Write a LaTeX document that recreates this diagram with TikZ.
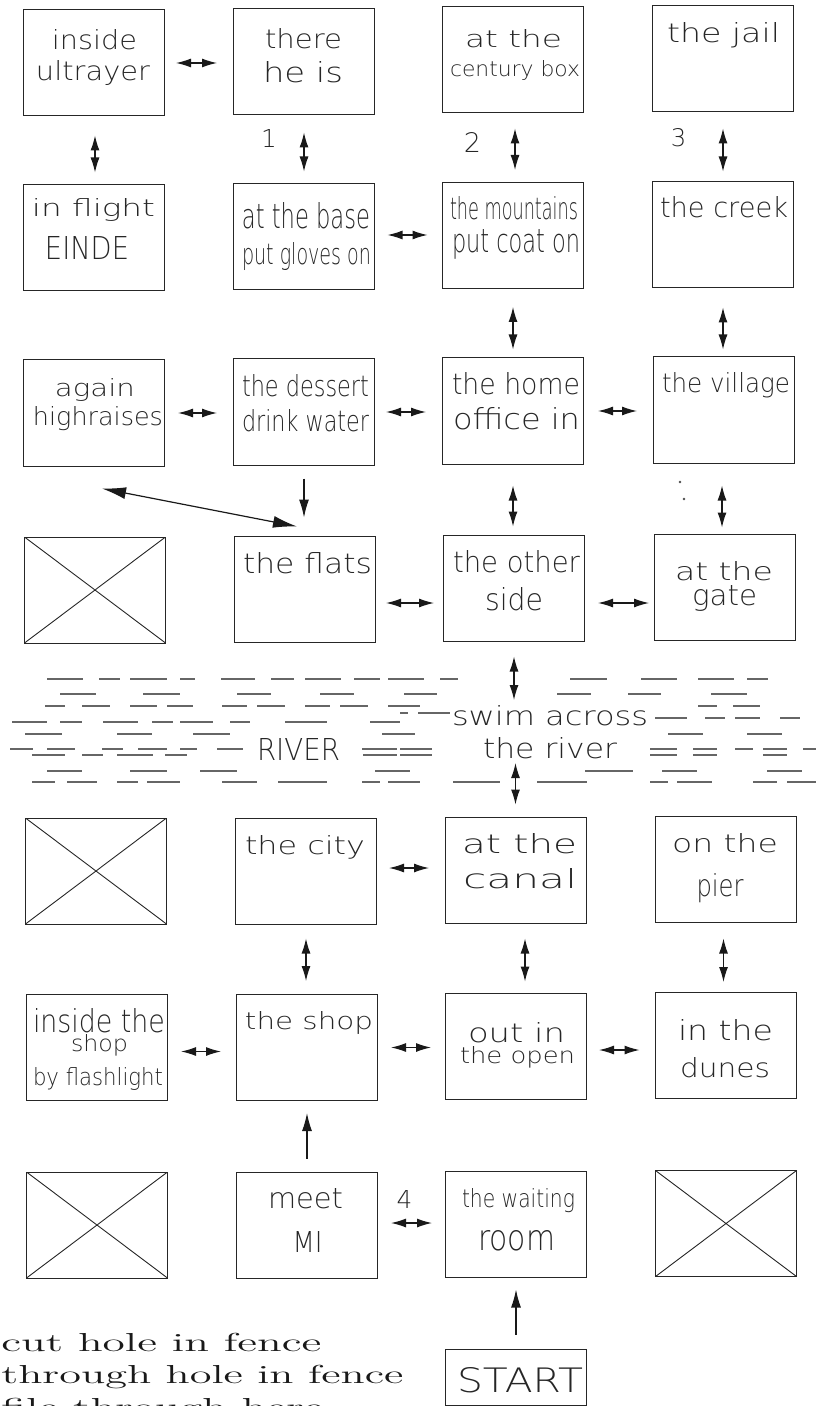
\documentclass[tikz,border=0pt]{standalone}
\usepackage{fontspec}
\usepackage{graphicx}
\usetikzlibrary{arrows.meta}
\newfontfamily\cadfont{DejaVu Sans}[UprightFont={* ExtraLight}]
\newdimen\pxu \pxu=0.5pt
\newcommand\fitline[3]{\resizebox{#1\pxu}{#2\pxu}{\cadfont #3}}
\newcommand\bline[6]{\node[tx] (#1) at (#2,#3) {\fitline{#4}{#5}{#6}};}
\newcommand\numline[5]{\node[tx] (#1) at (#2,#3) {\resizebox{!}{#4\pxu}{\cadfont #5}};}
\newcommand\harr[5][0pt]{\draw[dar, shorten <=#4, shorten >=#5] ([yshift=#1]#2.east) -- ([yshift=#1]#2.east -| #3.west);}
\newcommand\varr[5][0pt]{\draw[dar, shorten <=#4, shorten >=#5] ([xshift=#1]#2.south) -- ([xshift=#1]#2.south |- #3.north);}
\begin{document}
\begin{tikzpicture}[x=0.5pt,y=-0.5pt,
  box/.style={draw=black!85, line width=0.5pt, minimum width=70.5pt, minimum height=53pt, inner sep=0pt},
  xbox/.style={box, path picture={\draw[line width=0.45pt, black!85] (path picture bounding box.north west) -- (path picture bounding box.south east) (path picture bounding box.north east) -- (path picture bounding box.south west);}},
  tx/.style={anchor=base, inner sep=0pt, text=black!85, font=\fontsize{15pt}{16pt}\selectfont},
  dar/.style={line width=0.6pt, black!90, {Latex[length=7.5pt,width=4.5pt]}-{Latex[length=7.5pt,width=4.5pt]}},
  sar/.style={line width=0.6pt, black!90, -{Latex[length=9pt,width=5pt]}},
  bigdar/.style={line width=0.6pt, black!90, {Latex[length=12pt,width=6pt]}-{Latex[length=12pt,width=6pt]}},
  wave/.style={line width=0.55pt, black!60},
]
\clip (0,0) rectangle (816,1406);
\useasboundingbox (0,0) rectangle (816,1406);

% boxes
\node[box] (b11) at (93.5,63) {};
\node[box] (b12) at (304,62) {};
\node[box] (b13) at (513,60) {};
\node[box] (b14) at (723,59) {};
\node[box] (b21) at (93.5,238) {};
\node[box] (b22) at (304,237) {};
\node[box] (b23) at (513,235.5) {};
\node[box] (b24) at (723,235) {};
\node[box] (b31) at (94,413) {};
\node[box] (b32) at (304,412) {};
\node[box] (b33) at (513,411) {};
\node[box] (b34) at (724,410) {};
\node[xbox] (b41) at (95,590) {};
\node[box] (b42) at (305,589) {};
\node[box] (b43) at (514,588) {};
\node[box] (b44) at (725,587) {};
\node[xbox] (b51) at (96,871) {};
\node[box] (b52) at (306,871) {};
\node[box] (b53) at (515.5,870) {};
\node[box] (b54) at (725.5,869) {};
\node[box] (b61) at (96.5,1047.5) {};
\node[box] (b62) at (307,1047.5) {};
\node[box] (b63) at (516,1046) {};
\node[box] (b64) at (725.5,1045.5) {};
\node[xbox] (b71) at (97,1225) {};
\node[box] (b72) at (307,1225) {};
\node[box] (b73) at (516,1224) {};
\node[xbox] (b74) at (726,1223.5) {};
\node[box, minimum height=28pt] (st) at (516,1377) {};

% texts
\bline{t11a}{94.5}{50}{85}{20}{inside}
\bline{t11b}{93}{81}{114}{20}{ultrayer}
\bline{t12a}{303.5}{49}{77}{20}{there}
\bline{t12b}{303}{83}{80}{21}{he is}
\bline{t13a}{513.5}{48}{97}{18}{at the}
\bline{t13b}{515}{77}{130}{16}{century box}
\bline{t14a}{723.5}{43}{113}{20}{the jail}
\bline{t21a}{93.5}{217}{123}{18}{in flight}
\bline{t21b}{87}{260}{84}{23}{EINDE}
\bline{t22a}{306}{229}{128}{26}{at the base}
\bline{t22b}{306.5}{265}{129}{22}{put gloves on}
\bline{t23a}{514}{220}{128}{23}{the mountains}
\bline{t23b}{516}{253}{128}{23}{put coat on}
\bline{t24a}{724}{218}{128}{21}{the creek}
\bline{t31a}{95}{397}{80}{18}{again}
\bline{t31b}{98}{426}{130}{19}{highraises}
\bline{t32a}{305.5}{397}{127}{22}{the dessert}
\bline{t32b}{305.5}{432}{127}{22}{drink water}
\bline{t33a}{516}{395}{128}{22}{the home}
\bline{t33b}{516.5}{430}{127}{22}{office in}
\bline{t34a}{726}{393}{128}{20}{the village}
\bline{t42a}{307.5}{573}{129}{21}{the flats}
\bline{t43a}{516.5}{572}{127}{22}{the other}
\bline{t43b}{514}{610}{58}{23}{side}
\bline{t44a}{724}{580}{98}{19}{at the}
\bline{t44b}{724.5}{605}{65}{20}{gate}
\bline{tr1}{550}{725}{196}{20}{swim across}
\bline{tr2}{550}{758}{134}{21}{the river}
\bline{tr3}{298.5}{760}{83}{22}{RIVER}
\bline{t52a}{305}{854}{120}{19}{the city}
\bline{t53a}{519.5}{853}{115}{20}{at the}
\bline{t53b}{520}{888}{114}{20}{canal}
\bline{t54a}{725}{852}{106}{19}{on the}
\bline{t54b}{720}{896}{47}{23}{pier}
\bline{t61a}{99}{1032}{132}{24}{inside the}
\bline{t61b}{99.5}{1051}{57}{17}{shop}
\bline{t61c}{98}{1085}{130}{18}{by flashlight}
\bline{t62a}{309}{1029}{128}{18}{the shop}
\bline{t63a}{516.5}{1042}{97}{20}{out in}
\bline{t63b}{517.5}{1063}{115}{17}{the open}
\bline{t64a}{725.5}{1040}{95}{21}{in the}
\bline{t64b}{725}{1077}{90}{20}{dunes}
\bline{t72a}{305.5}{1208}{75}{20}{meet}
\bline{t72b}{307.5}{1252}{30}{21}{MI}
\bline{t73a}{518.5}{1207}{113}{19}{the waiting}
\bline{t73b}{516.5}{1250}{77}{20}{room}
\bline{tst}{520}{1392}{126}{25}{START}
\numline{n1}{269}{148}{18}{1}
\numline{n2}{472.5}{153}{20}{2}
\numline{n3}{678.5}{147}{18}{3}
\numline{n4}{404.5}{1208}{18}{4}

% stray colon marks
\fill[black!70] (680,482) circle (0.7pt);
\fill[black!70] (684,499) circle (0.7pt);

% arrows
\harr{b11}{b12}{5.75pt}{8pt}
\varr[0.75pt]{b11}{b21}{9.5pt}{6pt}
\varr{b12}{b22}{8.5pt}{6pt}
\varr[1pt]{b13}{b23}{7.5pt}{6pt}
\varr{b14}{b24}{8pt}{5pt}
\harr[1pt]{b22}{b23}{6.25pt}{7.25pt}
\varr{b23}{b33}{9pt}{4pt}
\varr{b24}{b34}{9.5pt}{3.5pt}
\harr{b31}{b32}{6.5pt}{8pt}
\harr{b32}{b33}{5.5pt}{8pt}
\harr{b33}{b34}{7pt}{8pt}
\draw[sar, shorten <=6.5pt, shorten >=9pt] (b32.south) -- (b32.south |- b42.north);
\draw[bigdar] ([shift={(8,22)}]b31.south) -- ([shift={(-8,-9)}]b42.north);
\varr{b33}{b43}{10.5pt}{4pt}
\varr[-1pt]{b34}{b44}{11pt}{3pt}
\harr[-7pt]{b42}{b43}{5pt}{4.5pt}
\harr[-7.5pt]{b43}{b44}{6.5pt}{2.5pt}
\coordinate (rv1) at (514,700);
\coordinate (rv2) at (515.5,763);
\draw[dar, shorten <=7.5pt] (b43.south) -- (rv1);
\draw[dar, shorten >=6pt] (rv2) -- (rv2 |- b53.north);
\harr[1.5pt]{b52}{b53}{6pt}{7.75pt}
\varr{b52}{b62}{7pt}{6.5pt}
\varr[4.75pt]{b53}{b63}{7.5pt}{5.5pt}
\varr[-1pt]{b54}{b64}{8pt}{5pt}
\harr[-2pt]{b61}{b62}{6.75pt}{7.5pt}
\harr{b62}{b63}{6.5pt}{7pt}
\harr[-2pt]{b63}{b64}{6pt}{7.5pt}
\draw[sar, shorten <=6.5pt, shorten >=6pt] (b72.north) -- (b72.north |- b62.south);
\harr[1pt]{b72}{b73}{6.5pt}{6.5pt}
\draw[sar, shorten <=7pt, shorten >=6pt] (st.north) -- (st.north |- b73.south);

% river dashes
\foreach \a/\b/\c in {
 47/83/679, 99/120/679, 130/167/679, 180/195/679, 221/255/679, 271/294/679, 305/341/679, 354/380/679, 388/424/679, 440/458/679, 570/607/679, 641/677/679, 698/734/679, 747/768/679,
 60/96/694, 143/180/694, 237/271/694, 320/354/694, 404/437/694, 557/591/694, 628/661/694, 711/747/694,
 45/65/706, 82/110/706, 130/157/706, 167/193/706, 222/247/706, 257/285/706, 305/330/706, 340/368/706, 388/420/706, 698/717/706, 733/760/706,
 400/408/713, 418/450/713,
 655/687/718, 705/725/718, 735/760/718, 780/800/718,
 12/47/722, 60/82/722, 103/138/722, 152/173/722, 180/213/722, 230/250/722, 285/327/722, 370/400/722,
 25/62/734, 117/152/734, 193/230/734, 382/415/734, 668/703/734, 747/782/734,
 10/33/749, 47/75/749, 102/123/749, 138/167/749, 180/197/749, 217/243/749, 362/397/749, 400/432/749, 650/677/749, 693/717/749, 735/753/749, 763/787/749, 803/816/749,
 32/65/755, 82/103/755, 117/153/755, 165/187/755, 363/397/755, 400/432/755, 650/677/755, 693/717/755, 763/787/755,
 47/82/771, 130/167/771, 200/237/771, 375/410/771, 585/633/771, 662/697/771, 767/802/771,
 32/55/782, 67/97/782, 117/138/782, 147/180/782, 222/257/782, 278/327/782, 362/380/782, 388/420/782, 453/500/782, 537/587/782, 650/668/782, 677/712/782, 753/777/782, 787/816/782}
 {\draw[wave] (\a,\c) -- (\b,\c);}

% bottom notes
\node[anchor=base west, inner sep=0pt, text=black!90, font=\fontsize{13pt}{15pt}\selectfont] (c1) at (1,1351) {\resizebox{160pt}{\height}{\addfontfeatures{LetterSpace=28}cut hole in fence}};
\node[anchor=base west, inner sep=0pt, text=black!90, font=\fontsize{13pt}{15pt}\selectfont] (c2) at (1,1383) {\resizebox{201pt}{\height}{\addfontfeatures{LetterSpace=28}through hole in fence}};
\node[anchor=base west, inner sep=0pt, text=black!90, font=\fontsize{13pt}{15pt}\selectfont] (c3) at (1,1416) {\resizebox{161pt}{\height}{\addfontfeatures{LetterSpace=28}file through here}};
\end{tikzpicture}
\end{document}
